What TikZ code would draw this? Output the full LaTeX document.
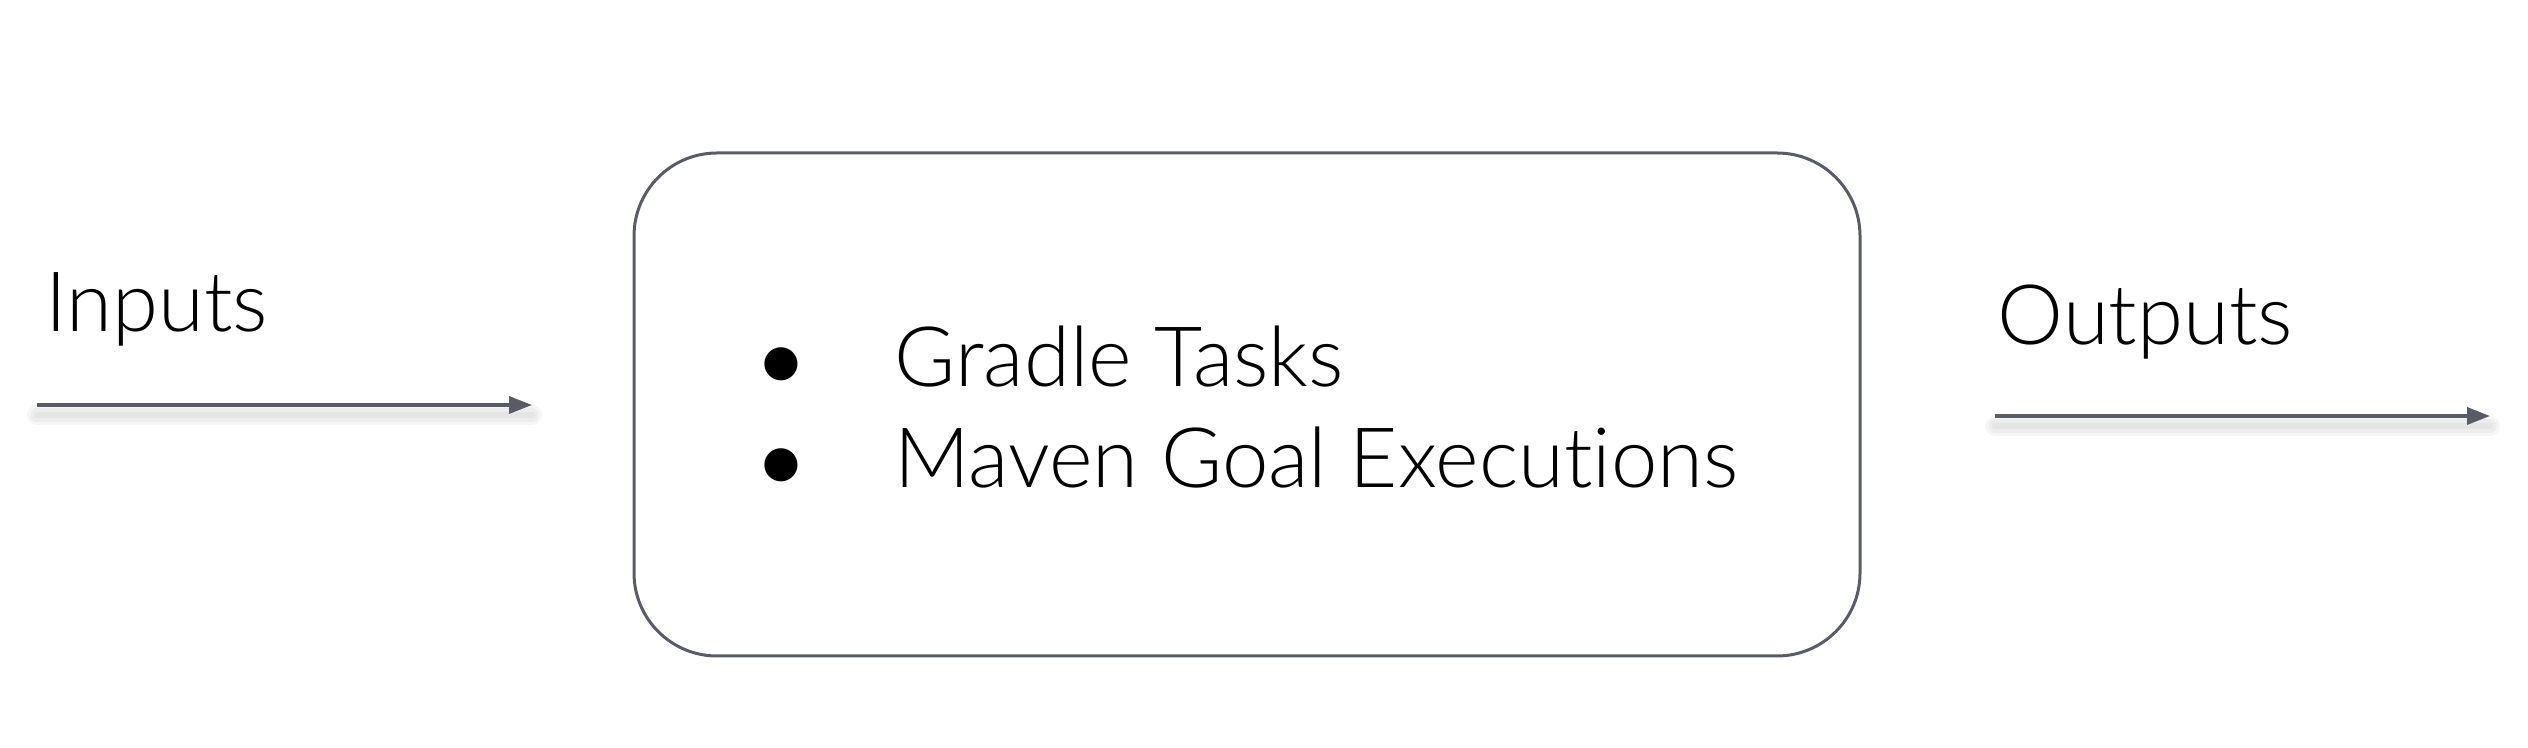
\documentclass[tikz,border=0pt]{standalone}
\usepackage{fontspec}
\setmainfont{Lato}[UprightFont=* Light,Ligatures=NoCommon]
\newfontfamily\symfont{DejaVu Sans}
\usetikzlibrary{arrows.meta}
\definecolor{linegray}{RGB}{89,92,100}
\begin{document}
\begin{tikzpicture}[x=0.3pt,y=-0.3pt,
  lbl/.style={inner sep=0pt,anchor=base west,font=\fontsize{25}{30}\selectfont},
  bul/.style={inner sep=0pt,anchor=center,font=\symfont\fontsize{13}{15}\selectfont},
  procbox/.style={draw=linegray,line width=0.9pt,rounded corners=24.9pt,minimum width=367.8pt,minimum height=150.9pt,inner sep=0pt},
  flow/.style={draw=linegray,line width=1pt,-{Triangle[length=6.9pt,width=5.1pt]}},
  shade/.style={line width=#1,draw=black,opacity=0.035,line cap=round}
]
\useasboundingbox (0,0) rectangle (2528,748);
\node[procbox] (box) at (1247,404.5) {};
\coordinate (inA) at (37,405);
\coordinate (inB) at (532,405);
\coordinate (outA) at (1995,416);
\coordinate (outB) at (2490,416);
\foreach \w in {2pt,4pt,6pt}{
  \draw[shade=\w] ([yshift=-3pt]inA) -- ([yshift=-3pt]inB);
  \draw[shade=\w] ([yshift=-3pt]outA) -- ([yshift=-3pt]outB);
}
\draw[flow] (inA) -- (inB);
\draw[flow] (outA) -- (outB);
\node[lbl] (inputs) at (45,332) {Inputs};
\node[lbl] (outputs) at (1997,345) {Outputs};
\node[lbl] (item1) at (894,387) {Gradle Tasks};
\node[lbl] (item2) at (894,488) {Maven Goal Executions};
\node[bul] (bul1) at (781,364) {●};
\node[bul] (bul2) at (781,465) {●};
\end{tikzpicture}
\end{document}
